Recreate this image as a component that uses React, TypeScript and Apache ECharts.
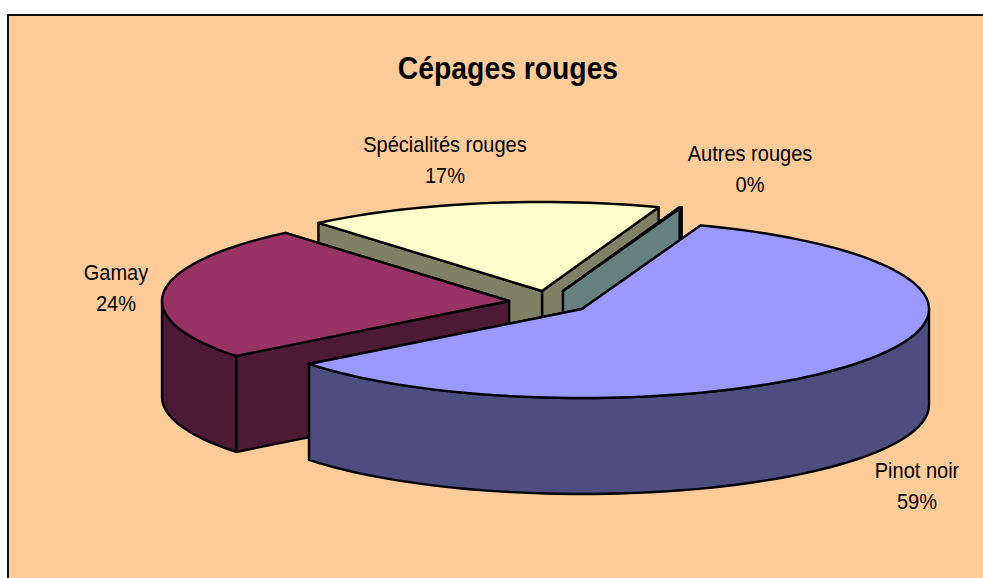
import React, { useEffect, useRef } from "react";
import * as echarts from "echarts";

const titleText = "Cépages rouges";
const categories = ["Pinot noir", "Gamay", "Spécialités rouges", "Autres rouges"];
const shares = [58.85, 24.45, 16.6, 0.1];
const topColors = ["#9999FF", "#993366", "#FFFFCC", "#CCFFFF"];
const sideColors = ["#4D4D80", "#4D1A33", "#808066", "#668080"];

// Layout of the drawing (pixels)
const CX = 547, CY = 300, RX = 347, RY = 89, DEPTH = 96, START = 70;
const offsets = [[35, 9], [-38, 1], [-5, -9], [16, -9]];
const labelAnchors = [[917, 486], [116, 288], [445, 160], [750, 169]];
const paintOrder = [4, 3, 1, 2];

const rad = (d: number) => (d * Math.PI) / 180;

function renderSlice(params: any, api: any) {
  const i = params.dataIndex;
  const total = shares.reduce((a, b) => a + b, 0);
  const before = shares.slice(0, i).reduce((a, b) => a + b, 0);
  const value = api.value(0);
  const t0 = START - (before / total) * 360;
  const t1 = t0 - (value / total) * 360;
  const ax = CX + offsets[i][0];
  const ay = CY + offsets[i][1];
  const pt = (t: number, d = 0) => [ax + RX * Math.cos(rad(t)), ay - RY * Math.sin(rad(t)) + d];
  const arc = (from: number, to: number, d = 0) => {
    const n = Math.max(2, Math.ceil(Math.abs(from - to) / 2));
    const out: number[][] = [];
    for (let k = 0; k <= n; k++) out.push(pt(from + ((to - from) * k) / n, d));
    return out;
  };
  const base = { stroke: "#000", lineWidth: 2.4, lineJoin: "round" };
  const z = paintOrder[i] * 10;
  const side = { ...base, fill: sideColors[i] };
  const radial = (t: number, z2: number) => ({
    type: "polygon",
    z2,
    shape: { points: [[ax, ay], pt(t), pt(t, DEPTH), [ax, ay + DEPTH]] },
    style: side,
  });
  const children: any[] = [radial(t1, z), radial(t0, z + 1)];
  const lo = Math.max(t1, -180);
  const hi = Math.min(t0, 0);
  if (hi > lo) {
    children.push({
      type: "polygon",
      z2: z + 2,
      shape: { points: [...arc(hi, lo), ...arc(lo, hi, DEPTH)] },
      style: side,
    });
  }
  children.push({
    type: "polygon",
    z2: z + 3,
    shape: { points: [[ax, ay], ...arc(t0, t1)] },
    style: { ...base, fill: topColors[i] },
  });
  children.push({
    type: "text",
    z2: 200,
    x: labelAnchors[i][0],
    y: labelAnchors[i][1],
    scaleX: 0.91,
    style: {
      text: `${categories[i]}\n${Math.round((value / total) * 100)}%`,
      x: 0,
      y: 0,
      align: "center",
      verticalAlign: "middle",
      fill: "#000",
      font: '22px "Liberation Sans"',
      lineHeight: 31,
    },
  });
  return { type: "group", children };
}

export default function App() {
  const ref = useRef<HTMLDivElement>(null);
  useEffect(() => {
    const chart = echarts.init(ref.current!, undefined, { renderer: "svg" });
    chart.setOption({
      animation: false,
      backgroundColor: "#FFFFFF",
      graphic: [
        {
          type: "rect",
          z: -10,
          shape: { x: 8, y: 15, width: 1000, height: 600 },
          style: { fill: "#FFCC99", stroke: "#111", lineWidth: 2 },
        },
        {
          type: "text",
          z: 10,
          x: 508,
          y: 68,
          scaleX: 0.885,
          style: {
            text: titleText,
            x: 0,
            y: 0,
            align: "center",
            verticalAlign: "middle",
            fill: "#000",
            font: 'bold 32px "Liberation Sans"',
          },
        },
      ],
      series: [
        {
          type: "custom",
          coordinateSystem: "none",
          renderItem: renderSlice,
          silent: true,
          data: shares.map((v, i) => ({ name: categories[i], value: [v] })),
        },
      ],
    });
    return () => chart.dispose();
  }, []);
  return <div ref={ref} style={{ position: "absolute", left: 0, top: 0, width: 983, height: 578 }} />;
}
